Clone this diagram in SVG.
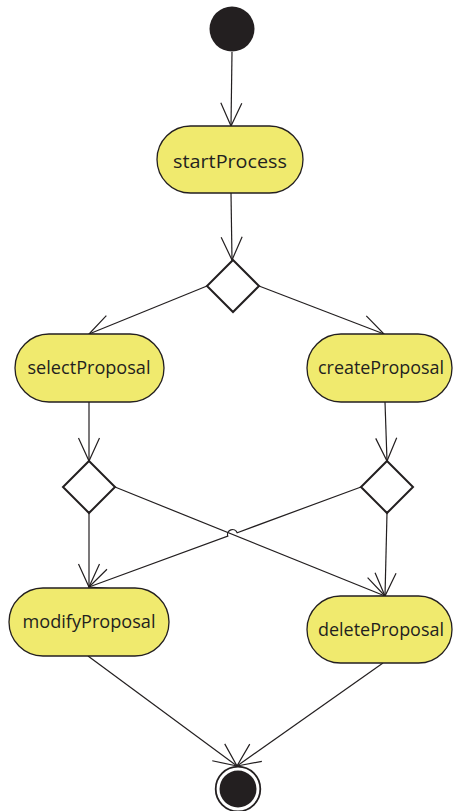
<svg xmlns="http://www.w3.org/2000/svg" width="453" height="811" viewBox="0 0 453 811">
<style>
.node{fill:#f0ea6e;stroke:#231f20;stroke-width:1.3}
.dec{fill:#fff;stroke:#231f20;stroke-width:2}
.lbl{font-family:"Open Sans","Liberation Sans",sans-serif;font-size:19px;fill:#231f20;text-anchor:middle}
.edge{fill:none;stroke:#231f20;stroke-width:1.2;marker-end:url(#arr)}
</style>
<defs>
<marker id="arr" markerUnits="userSpaceOnUse" orient="auto" refX="0" refY="0" markerWidth="30" markerHeight="30" overflow="visible">
<path d="M-23,-10.5 L0,0 L-23,10.5" fill="none" stroke="#231f20" stroke-width="1.2"/>
</marker>
</defs>
<rect width="453" height="811" fill="#fff"/>
<g id="connectors">
<path class="edge" d="M232,52 L231,126"/>
<path class="edge" d="M231,193 L232,260"/>
<path class="edge" d="M207,286 L89,334"/>
<path class="edge" d="M259,286 L384,334"/>
<path class="edge" d="M89,402 L89,461"/>
<path class="edge" d="M385,402 L387,461"/>
<path class="edge" d="M89,513 L89,587"/>
<path class="edge" d="M387,513 L385,596"/>
<path class="edge" d="M115,487 L385,596"/>
<path class="edge" d="M361,487 L237.2,532.7 A5,5 0 0 0 227.8,536.1 L89,587"/>
<path class="edge" d="M88,656 L237,766"/>
<path class="edge" d="M383,663 L237,766"/>
</g>
<g id="initial">
<circle cx="232" cy="29" r="22.5" fill="#231f20"/>
</g>
<g id="startProcess">
<rect class="node" x="157" y="126" width="146" height="67" rx="33.5"/>
<text class="lbl" x="230" y="168" textLength="114" lengthAdjust="spacingAndGlyphs">startProcess</text>
</g>
<g id="decision1">
<polygon class="dec" points="233,260 259,286 233,312 207,286"/>
</g>
<g id="selectProposal">
<rect class="node" x="15" y="334" width="149" height="68" rx="34"/>
<text class="lbl" x="89" y="374" textLength="123" lengthAdjust="spacingAndGlyphs">selectProposal</text>
</g>
<g id="createProposal">
<rect class="node" x="307" y="334" width="145" height="68" rx="34"/>
<text class="lbl" x="381" y="374" textLength="126" lengthAdjust="spacingAndGlyphs">createProposal</text>
</g>
<g id="decision2">
<polygon class="dec" points="89,461 115,487 89,513 63,487"/>
</g>
<g id="decision3">
<polygon class="dec" points="387,461 413,487 387,513 361,487"/>
</g>
<g id="modifyProposal">
<rect class="node" x="9" y="588" width="160" height="68" rx="34"/>
<text class="lbl" x="89" y="628" textLength="133" lengthAdjust="spacingAndGlyphs">modifyProposal</text>
</g>
<g id="deleteProposal">
<rect class="node" x="307" y="596" width="145" height="67" rx="33.5"/>
<text class="lbl" x="381" y="636" textLength="126" lengthAdjust="spacingAndGlyphs">deleteProposal</text>
</g>
<g id="final">
<circle cx="238" cy="789" r="22.3" fill="#fff" stroke="#231f20" stroke-width="1.8"/>
<circle cx="238" cy="789" r="18.5" fill="#231f20"/>
</g>
</svg>
